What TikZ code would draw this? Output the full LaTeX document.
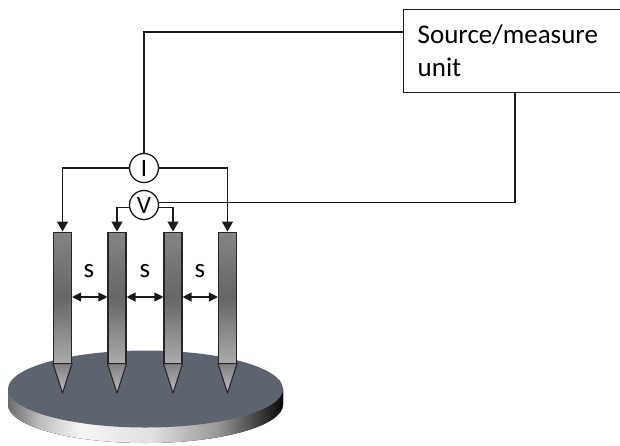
\documentclass[tikz,border=0pt]{standalone}
\usepackage{fontspec}
\setmainfont{Carlito}
\usetikzlibrary{arrows.meta,calc}

\definecolor{wafertop}{HTML}{5D6470}
\definecolor{wireclr}{HTML}{1A1A1A}

% probe body: light at the bottom, dark band in the middle
\pgfdeclareverticalshading{probebody}{100bp}{%
  color(0bp)=(black!33); color(25bp)=(black!33); color(50bp)=(black!60);
  color(75bp)=(black!48); color(100bp)=(black!48)}
% probe tip
\pgfdeclareverticalshading{probetip}{100bp}{%
  color(0bp)=(black!25); color(25bp)=(black!25);
  color(75bp)=(black!50); color(100bp)=(black!50)}
% rim of the wafer
\pgfdeclarehorizontalshading{waferrim}{100bp}{%
  color(0bp)=(black!58); color(25bp)=(black!58); color(31bp)=(black!25);
  color(38bp)=(black!4); color(51bp)=(black!12); color(63bp)=(black!40);
  color(71bp)=(black!78); color(75bp)=(black!97); color(100bp)=(black!97)}

\begin{document}
\begin{tikzpicture}[x=1pt,y=-1pt,
  wire/.style={line width=1.3pt, draw=wireclr},
  feed/.style={wire, -{Triangle[length=10pt,width=11pt]}},
  gap/.style={line width=1.2pt, draw=wireclr,
    {Triangle[length=9pt,width=9pt]}-{Triangle[length=9pt,width=9pt]}},
  meter/.style={circle, draw=wireclr, line width=1.3pt, fill=white,
    minimum size=29pt, inner sep=0pt, font=\fontsize{25}{25}\selectfont},
  probebar/.style={rectangle, draw=black!85, line width=1.1pt,
    minimum width=18pt, minimum height=131pt, inner sep=0pt, shading=probebody},
  tipshape/.style={draw=black!85, line width=1.1pt, line join=round, shading=probetip},
  smubox/.style={rectangle, draw=wireclr, line width=1.3pt, fill=white,
    minimum width=240pt, minimum height=83pt, text width=212pt,
    inner xsep=14pt, align=left, font=\fontsize{27}{33}\selectfont},
  lbl/.style={font=\fontsize{27}{27}\selectfont, inner sep=0pt}]

\useasboundingbox (0,0) rectangle (620,445);
\clip (0,0) rectangle (620,445);

% wafer: rim, then top face
\fill[shading=waferrim] (8,389) -- (8,404.5)
  arc[start angle=180, end angle=360, x radius=137.5pt, y radius=38.5pt]
  -- (283,389) -- cycle;
\fill[wafertop] (145.5,389) ellipse [x radius=137.5pt, y radius=38.5pt];

% four probes
\node[probebar, anchor=north] (p1) at (62.5,231.5) {};
\node[probebar, anchor=north] (p2) at (117,231.5) {};
\node[probebar, anchor=north] (p3) at (173,231.5) {};
\node[probebar, anchor=north] (p4) at (227.5,231.5) {};
\foreach \p in {p1,p2,p3,p4}
  \draw[tipshape] (\p.south west) -- (\p.south east) -- ($(\p.south)+(0,29.5)$) -- cycle;

% probe spacing
\draw[gap] (p1.east |- 0,297) -- (p2.west |- 0,297);
\draw[gap] (p2.east |- 0,297) -- (p3.west |- 0,297);
\draw[gap] (p3.east |- 0,297) -- (p4.west |- 0,297);
\node[lbl] (s1) at (89,271) {s};
\node[lbl] (s2) at (145,271) {s};
\node[lbl] (s3) at (200,271) {s};

% instrument and meters
\node[smubox, anchor=north west] (smu) at (403,9) {Source/measure\\unit};
\node[meter] (I) at (144,168) {I};
\node[meter] (V) at (144,205) {V};

% wiring
\draw[wire] (smu.north west |- 0,32) -| (I.north);
\draw[wire] (smu.south west -| 515,0) |- (V.10);
\draw[feed] (I.west) -| (p1.north);
\draw[feed] (I.east) -| (p4.north);
\draw[feed] (V.190) -| (p2.north);
\draw[feed] (V.-10) -| (p3.north);
\end{tikzpicture}
\end{document}
